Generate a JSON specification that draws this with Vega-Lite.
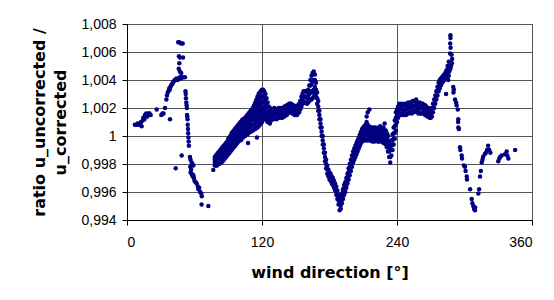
{
  "$schema": "https://vega.github.io/schema/vega-lite/v6.json",
  "autosize": "none",
  "width": 405,
  "height": 196,
  "padding": {"left": 127, "top": 24, "right": 22, "bottom": 80},
  "background": "white",
  "config": {
    "view": {"stroke": "#888888", "strokeWidth": 1},
    "axis": {
      "labelFont": "Liberation Sans",
      "labelFontSize": 14,
      "labelColor": "#000000",
      "titleFont": "DejaVu Sans",
      "titleFontSize": 16,
      "titleFontWeight": "bold",
      "titleColor": "#000000",
      "domainColor": "#000000",
      "tickColor": "#000000",
      "tickSize": 5,
      "gridColor": "#555555",
      "gridOpacity": 1,
      "gridWidth": 1
    }
  },
  "data": {
    "values": [
      {"d":7,"r":1.0008},{"d":8.5,"r":1.0008},{"d":9.5,"r":1.0009},{"d":10.5,"r":1.0008},{"d":11.5,"r":1.0009},{"d":12.5,"r":1.001},{"d":13,"r":1.0007},{"d":14,"r":1.0011},{"d":14.5,"r":1.0013},{"d":15.5,"r":1.0012},{"d":16,"r":1.0015},{"d":17,"r":1.0016},{"d":18,"r":1.0014},{"d":19,"r":1.0016},{"d":20,"r":1.0016},{"d":21,"r":1.0015},{"d":26.4,"r":1.0019},{"d":30.5,"r":1.0015},{"d":31.5,"r":1.0016},{"d":32.5,"r":1.0016},{"d":33.8,"r":1.002},{"d":35,"r":1.0026},{"d":35.5,"r":1.0029},{"d":36.2,"r":1.0031},{"d":36.8,"r":1.0032},{"d":37.5,"r":1.0034},{"d":38,"r":1.0033},{"d":38.6,"r":1.0035},{"d":39.2,"r":1.0036},{"d":40,"r":1.0037},{"d":40.8,"r":1.0038},{"d":41.5,"r":1.0039},{"d":42.3,"r":1.004},{"d":43.2,"r":1.004},{"d":44,"r":1.0041},{"d":45,"r":1.004},{"d":46,"r":1.0041},{"d":47,"r":1.0042},{"d":48,"r":1.0041},{"d":49,"r":1.0042},{"d":50,"r":1.0042},{"d":38.2,"r":1.0012},{"d":43.3,"r":0.9977},{"d":45.5,"r":1.0067},{"d":46.5,"r":1.0067},{"d":48,"r":1.0066},{"d":49.5,"r":1.0066},{"d":46.2,"r":1.0057},{"d":47,"r":1.0056},{"d":49.8,"r":1.0056},{"d":46.5,"r":1.0052},{"d":46,"r":1.0048},{"d":47,"r":1.0046},{"d":48.2,"r":1.0045},{"d":51.5,"r":1.0042},{"d":52,"r":1.0032},{"d":52.2,"r":1.003},{"d":52.4,"r":1.0027},{"d":52.7,"r":1.0024},{"d":53,"r":1.0022},{"d":53.2,"r":1.002},{"d":53.4,"r":1.0015},{"d":53.6,"r":1.0014},{"d":53.8,"r":1.0012},{"d":54,"r":1.0008},{"d":54.2,"r":1.0005},{"d":54.4,"r":1.0002},{"d":54.6,"r":0.9999},{"d":54.8,"r":0.9996},{"d":55,"r":0.9993},{"d":48.6,"r":0.9986},{"d":56,"r":0.9985},{"d":56.5,"r":0.9983},{"d":57.5,"r":0.9981},{"d":58.2,"r":0.998},{"d":59,"r":0.9979},{"d":56.3,"r":0.9978},{"d":57,"r":0.9976},{"d":56.5,"r":0.9974},{"d":57.5,"r":0.9973},{"d":58,"r":0.9972},{"d":58.5,"r":0.9971},{"d":59,"r":0.9972},{"d":59.5,"r":0.997},{"d":60,"r":0.9968},{"d":61,"r":0.9967},{"d":62,"r":0.9966},{"d":63,"r":0.9964},{"d":63.5,"r":0.9962},{"d":64.2,"r":0.9963},{"d":65,"r":0.996},{"d":66,"r":0.9959},{"d":66.5,"r":0.9957},{"d":66.3,"r":0.9951},{"d":72.3,"r":0.995},
      {"d":76.7,"r":0.99758},
      {"d":78,"r":0.9979},{"d":78,"r":0.9981},{"d":78,"r":0.9983},{"d":78,"r":0.9985},
      {"d":79,"r":0.9979},{"d":79,"r":0.99813},{"d":79,"r":0.99837},{"d":79,"r":0.9986},
      {"d":80,"r":0.9979},{"d":80,"r":0.99817},{"d":80,"r":0.99843},{"d":80,"r":0.9987},
      {"d":81,"r":0.998},{"d":81,"r":0.99827},{"d":81,"r":0.99853},{"d":81,"r":0.9988},
      {"d":82,"r":0.998},{"d":82,"r":0.9983},{"d":82,"r":0.9986},{"d":82,"r":0.9989},
      {"d":83,"r":0.9981},{"d":83,"r":0.9984},{"d":83,"r":0.9987},{"d":83,"r":0.999},
      {"d":84,"r":0.9981},{"d":84,"r":0.99843},{"d":84,"r":0.99877},{"d":84,"r":0.9991},
      {"d":85,"r":0.9982},{"d":85,"r":0.99853},{"d":85,"r":0.99887},{"d":85,"r":0.9992},
      {"d":86,"r":0.9983},{"d":86,"r":0.99863},{"d":86,"r":0.99897},{"d":86,"r":0.9993},
      {"d":87,"r":0.9984},{"d":87,"r":0.99873},{"d":87,"r":0.99907},{"d":87,"r":0.9994},
      {"d":88,"r":0.9985},{"d":88,"r":0.99883},{"d":88,"r":0.99917},{"d":88,"r":0.9995},
      {"d":89,"r":0.9986},{"d":89,"r":0.99893},{"d":89,"r":0.99927},{"d":89,"r":0.9996},
      {"d":90,"r":0.9987},{"d":90,"r":0.99907},{"d":90,"r":0.99943},{"d":90,"r":0.9998},
      {"d":91,"r":0.9988},{"d":91,"r":0.99917},{"d":91,"r":0.99953},{"d":91,"r":0.9999},
      {"d":92,"r":0.9989},{"d":92,"r":0.99927},{"d":92,"r":0.99963},{"d":92,"r":1.0},
      {"d":93,"r":0.999},{"d":93,"r":0.9994},{"d":93,"r":0.9998},{"d":93,"r":1.0002},
      {"d":94,"r":0.9991},{"d":94,"r":0.9995},{"d":94,"r":0.9999},{"d":94,"r":1.0003},
      {"d":95,"r":0.9992},{"d":95,"r":0.9996},{"d":95,"r":1.0},{"d":95,"r":1.0004},
      {"d":96,"r":0.9993},{"d":96,"r":0.9997},{"d":96,"r":1.0001},{"d":96,"r":1.0005},
      {"d":97,"r":0.9994},{"d":97,"r":0.9998},{"d":97,"r":1.0002},{"d":97,"r":1.0006},
      {"d":98,"r":0.9995},{"d":98,"r":0.9999},{"d":98,"r":1.0003},{"d":98,"r":1.0007},
      {"d":99,"r":0.9996},{"d":99,"r":1.0},{"d":99,"r":1.0004},{"d":99,"r":1.0008},
      {"d":100,"r":0.9997},{"d":100,"r":1.0},{"d":100,"r":1.0003},{"d":100,"r":1.0006},{"d":100,"r":1.0009},
      {"d":101,"r":0.9997},{"d":101,"r":1.00003},{"d":101,"r":1.00035},{"d":101,"r":1.00068},{"d":101,"r":1.001},
      {"d":102,"r":0.9998},{"d":102,"r":1.00013},{"d":102,"r":1.00045},{"d":102,"r":1.00078},{"d":102,"r":1.0011},
      {"d":103,"r":0.9999},{"d":103,"r":1.00023},{"d":103,"r":1.00055},{"d":103,"r":1.00088},{"d":103,"r":1.0012},
      {"d":104,"r":1.0},{"d":104,"r":1.0003},{"d":104,"r":1.0006},{"d":104,"r":1.0009},{"d":104,"r":1.0012},
      {"d":105,"r":1.0},{"d":105,"r":1.00033},{"d":105,"r":1.00065},{"d":105,"r":1.00098},{"d":105,"r":1.0013},
      {"d":106,"r":1.0001},{"d":106,"r":1.00043},{"d":106,"r":1.00075},{"d":106,"r":1.00108},{"d":106,"r":1.0014},
      {"d":107,"r":1.0001},{"d":107,"r":1.00045},{"d":107,"r":1.0008},{"d":107,"r":1.00115},{"d":107,"r":1.0015},
      {"d":107.6,"r":0.9995},
      {"d":108,"r":1.0002},{"d":108,"r":1.00055},{"d":108,"r":1.0009},{"d":108,"r":1.00125},{"d":108,"r":1.0016},
      {"d":109,"r":1.0003},{"d":109,"r":1.00065},{"d":109,"r":1.001},{"d":109,"r":1.00135},{"d":109,"r":1.0017},
      {"d":110,"r":1.0003},{"d":110,"r":1.00068},{"d":110,"r":1.00105},{"d":110,"r":1.00143},{"d":110,"r":1.0018},
      {"d":111,"r":1.0004},{"d":111,"r":1.00078},{"d":111,"r":1.00115},{"d":111,"r":1.00153},{"d":111,"r":1.0019},
      {"d":112,"r":1.0004},{"d":112,"r":1.0008},{"d":112,"r":1.0012},{"d":112,"r":1.0016},{"d":112,"r":1.002},
      {"d":113,"r":1.0005},{"d":113,"r":1.00084},{"d":113,"r":1.00118},{"d":113,"r":1.00152},{"d":113,"r":1.00186},{"d":113,"r":1.0022},
      {"d":114,"r":1.0005},{"d":114,"r":1.00088},{"d":114,"r":1.00126},{"d":114,"r":1.00164},{"d":114,"r":1.00202},{"d":114,"r":1.0024},
      {"d":115,"r":1.0006},{"d":115,"r":1.001},{"d":115,"r":1.0014},{"d":115,"r":1.0018},{"d":115,"r":1.0022},{"d":115,"r":1.0026},{"d":115.5,"r":0.9999},
      {"d":116,"r":1.0006},{"d":116,"r":1.00104},{"d":116,"r":1.00148},{"d":116,"r":1.00192},{"d":116,"r":1.00236},{"d":116,"r":1.0028},
      {"d":117,"r":1.0007},{"d":117,"r":1.00116},{"d":117,"r":1.00162},{"d":117,"r":1.00208},{"d":117,"r":1.00254},{"d":117,"r":1.003},
      {"d":118,"r":1.0008},{"d":118,"r":1.00126},{"d":118,"r":1.00172},{"d":118,"r":1.00218},{"d":118,"r":1.00264},{"d":118,"r":1.0031},
      {"d":119,"r":1.0009},{"d":119,"r":1.00136},{"d":119,"r":1.00182},{"d":119,"r":1.00228},{"d":119,"r":1.00274},{"d":119,"r":1.0032},
      {"d":120,"r":1.001},{"d":120,"r":1.00146},{"d":120,"r":1.00192},{"d":120,"r":1.00238},{"d":120,"r":1.00284},{"d":120,"r":1.0033},
      {"d":121,"r":1.0012},{"d":121,"r":1.00162},{"d":121,"r":1.00204},{"d":121,"r":1.00246},{"d":121,"r":1.00288},{"d":121,"r":1.0033},
      {"d":122,"r":1.0013},{"d":122,"r":1.00168},{"d":122,"r":1.00206},{"d":122,"r":1.00244},{"d":122,"r":1.00282},{"d":122,"r":1.0032},
      {"d":123,"r":1.0012},{"d":123,"r":1.00156},{"d":123,"r":1.00192},{"d":123,"r":1.00228},{"d":123,"r":1.00264},{"d":123,"r":1.003},
      {"d":124,"r":1.0011},{"d":124,"r":1.00142},{"d":124,"r":1.00174},{"d":124,"r":1.00206},{"d":124,"r":1.00238},{"d":124,"r":1.0027},
      {"d":125,"r":1.001},{"d":125,"r":1.00135},{"d":125,"r":1.0017},{"d":125,"r":1.00205},{"d":125,"r":1.0024},
      {"d":126,"r":1.001},{"d":126,"r":1.00137},{"d":126,"r":1.00173},{"d":126,"r":1.0021},
      {"d":127,"r":1.0009},{"d":127,"r":1.00127},{"d":127,"r":1.00163},{"d":127,"r":1.002},
      {"d":128,"r":1.0011},{"d":128,"r":1.0015},{"d":128,"r":1.0019},
      {"d":129,"r":1.0012},{"d":129,"r":1.0015},{"d":129,"r":1.0019},
      {"d":130,"r":1.0012},{"d":130,"r":1.0016},{"d":130,"r":1.0019},
      {"d":131,"r":1.0013},{"d":131,"r":1.0016},{"d":131,"r":1.002},
      {"d":132,"r":1.0013},{"d":132,"r":1.0016},{"d":132,"r":1.0019},
      {"d":133,"r":1.0012},{"d":133,"r":1.0016},{"d":133,"r":1.0019},
      {"d":134,"r":1.0013},{"d":134,"r":1.0016},{"d":134,"r":1.0019},
      {"d":135,"r":1.0013},{"d":135,"r":1.0016},{"d":135,"r":1.002},
      {"d":136,"r":1.0014},{"d":136,"r":1.0017},{"d":136,"r":1.002},
      {"d":137,"r":1.0013},{"d":137,"r":1.0016},{"d":137,"r":1.0019},
      {"d":138,"r":1.0013},{"d":138,"r":1.0016},{"d":138,"r":1.002},
      {"d":139,"r":1.0014},{"d":139,"r":1.0017},{"d":139,"r":1.002},
      {"d":140,"r":1.0014},{"d":140,"r":1.0017},{"d":140,"r":1.0021},
      {"d":141,"r":1.0015},{"d":141,"r":1.0018},{"d":141,"r":1.0021},
      {"d":142,"r":1.0015},{"d":142,"r":1.0018},{"d":142,"r":1.0022},
      {"d":143,"r":1.0016},{"d":143,"r":1.0019},{"d":143,"r":1.0022},
      {"d":144,"r":1.0017},{"d":144,"r":1.002},{"d":144,"r":1.0023},
      {"d":145,"r":1.0017},{"d":145,"r":1.002},{"d":145,"r":1.0023},
      {"d":146,"r":1.0017},{"d":146,"r":1.002},{"d":146,"r":1.0023},
      {"d":147,"r":1.0016},{"d":147,"r":1.0019},{"d":147,"r":1.0022},
      {"d":148,"r":1.0016},{"d":148,"r":1.0019},{"d":148,"r":1.0022},
      {"d":149,"r":1.0015},{"d":149,"r":1.0018},{"d":149,"r":1.0021},
      {"d":150,"r":1.0015},{"d":150,"r":1.0018},{"d":150,"r":1.0021},
      {"d":151,"r":1.0015},{"d":151,"r":1.0018},{"d":151,"r":1.0021},
      {"d":152,"r":1.0016},{"d":152,"r":1.0019},{"d":152,"r":1.0022},
      {"d":153,"r":1.0017},{"d":153,"r":1.002},{"d":153,"r":1.0023},
      {"d":154,"r":1.0019},{"d":154,"r":1.0022},{"d":154,"r":1.0025},
      {"d":155,"r":1.0021},{"d":155,"r":1.0024},{"d":155,"r":1.0028},
      {"d":156,"r":1.0023},{"d":156,"r":1.0026},{"d":156,"r":1.003},
      {"d":157,"r":1.0024},{"d":157,"r":1.0028},{"d":157,"r":1.0032},
      {"d":158,"r":1.0024},{"d":158,"r":1.0028},{"d":158,"r":1.0032},
      {"d":159,"r":1.0024},{"d":159,"r":1.0028},{"d":159,"r":1.0032},
      {"d":160,"r":1.0023},{"d":160,"r":1.0027},{"d":160,"r":1.0031},
      {"d":161,"r":1.0024},{"d":161,"r":1.0028},{"d":161,"r":1.0033},
      {"d":162,"r":1.0025},{"d":162,"r":1.003},{"d":162,"r":1.0036},
      {"d":163,"r":1.0026},{"d":163,"r":1.0032},{"d":163,"r":1.0036},{"d":163,"r":1.004},
      {"d":164,"r":1.0026},{"d":164,"r":1.0031},{"d":164,"r":1.0037},{"d":164,"r":1.0043},
      {"d":165,"r":1.0027},{"d":165,"r":1.0032},{"d":165,"r":1.0039},{"d":165,"r":1.0045},
      {"d":166,"r":1.0028},{"d":166,"r":1.0033},{"d":166,"r":1.004},{"d":166,"r":1.0046},
      {"d":167,"r":1.003},{"d":167,"r":1.0035},{"d":167,"r":1.004},{"d":167,"r":1.0044},
      {"d":168,"r":1.0028},{"d":168,"r":1.0033},{"d":168,"r":1.0038},
      {"d":169,"r":1.0023},{"d":169,"r":1.0027},{"d":169,"r":1.0031},
      {"d":170,"r":1.0018},{"d":170,"r":1.0021},{"d":170,"r":1.0025},
      {"d":171,"r":1.0012},{"d":171,"r":1.0015},{"d":171,"r":1.0018},
      {"d":172,"r":1.0006},{"d":172,"r":1.0009},{"d":172,"r":1.0012},
      {"d":173,"r":1.0},{"d":173,"r":1.0003},{"d":173,"r":1.0006},
      {"d":174,"r":0.9994},{"d":174,"r":0.9997},{"d":174,"r":1.0},
      {"d":175,"r":0.9988},{"d":175,"r":0.9991},{"d":175,"r":0.9994},
      {"d":176,"r":0.9982},{"d":176,"r":0.9985},{"d":176,"r":0.9988},
      {"d":177,"r":0.9977},{"d":177,"r":0.998},{"d":177,"r":0.9983},
      {"d":178,"r":0.9973},{"d":178,"r":0.9976},{"d":178,"r":0.9979},
      {"d":179,"r":0.9971},{"d":179,"r":0.9973},{"d":179,"r":0.9976},
      {"d":180,"r":0.9969},{"d":180,"r":0.9971},{"d":180,"r":0.9974},
      {"d":181,"r":0.9968},{"d":181,"r":0.997},{"d":181,"r":0.9973},
      {"d":182,"r":0.9966},{"d":182,"r":0.9968},{"d":182,"r":0.9971},
      {"d":183,"r":0.9965},{"d":183,"r":0.9967},{"d":183,"r":0.997},
      {"d":184,"r":0.9963},{"d":184,"r":0.9965},{"d":184,"r":0.9968},
      {"d":185,"r":0.9961},{"d":185,"r":0.9963},{"d":185,"r":0.9966},
      {"d":186,"r":0.9958},{"d":186,"r":0.9961},{"d":186,"r":0.9964},
      {"d":187,"r":0.9955},{"d":187,"r":0.9958},{"d":187,"r":0.9961},
      {"d":188,"r":0.9951},{"d":188,"r":0.9954},{"d":188,"r":0.9958},
      {"d":189,"r":0.9947},{"d":189,"r":0.9951},{"d":189,"r":0.9955},
      {"d":190,"r":0.9948},{"d":190,"r":0.99507},{"d":190,"r":0.99533},{"d":190,"r":0.9956},
      {"d":191,"r":0.9952},{"d":191,"r":0.99543},{"d":191,"r":0.99567},{"d":191,"r":0.9959},
      {"d":192,"r":0.9955},{"d":192,"r":0.99573},{"d":192,"r":0.99597},{"d":192,"r":0.9962},
      {"d":193,"r":0.9958},{"d":193,"r":0.99603},{"d":193,"r":0.99627},{"d":193,"r":0.9965},
      {"d":194,"r":0.996},{"d":194,"r":0.99623},{"d":194,"r":0.99647},{"d":194,"r":0.9967},
      {"d":195,"r":0.9963},{"d":195,"r":0.99653},{"d":195,"r":0.99677},{"d":195,"r":0.997},
      {"d":196,"r":0.9966},{"d":196,"r":0.99683},{"d":196,"r":0.99707},{"d":196,"r":0.9973},
      {"d":197,"r":0.9969},{"d":197,"r":0.99717},{"d":197,"r":0.99743},{"d":197,"r":0.9977},
      {"d":198,"r":0.9972},{"d":198,"r":0.99747},{"d":198,"r":0.99773},{"d":198,"r":0.998},
      {"d":199,"r":0.9975},{"d":199,"r":0.99777},{"d":199,"r":0.99803},{"d":199,"r":0.9983},
      {"d":200,"r":0.9978},{"d":200,"r":0.99807},{"d":200,"r":0.99833},{"d":200,"r":0.9986},
      {"d":201,"r":0.9981},{"d":201,"r":0.99837},{"d":201,"r":0.99863},{"d":201,"r":0.9989},
      {"d":202,"r":0.9983},{"d":202,"r":0.99857},{"d":202,"r":0.99883},{"d":202,"r":0.9991},
      {"d":203,"r":0.9985},{"d":203,"r":0.99877},{"d":203,"r":0.99903},{"d":203,"r":0.9993},
      {"d":204,"r":0.9987},{"d":204,"r":0.99897},{"d":204,"r":0.99923},{"d":204,"r":0.9995},
      {"d":205,"r":0.9989},{"d":205,"r":0.99917},{"d":205,"r":0.99943},{"d":205,"r":0.9997},
      {"d":206,"r":0.9991},{"d":206,"r":0.99937},{"d":206,"r":0.99963},{"d":206,"r":0.9999},
      {"d":207,"r":0.9993},{"d":207,"r":0.99957},{"d":207,"r":0.99983},{"d":207,"r":1.0001},
      {"d":208,"r":0.9995},{"d":208,"r":0.99977},{"d":208,"r":1.00003},{"d":208,"r":1.0003},
      {"d":209,"r":0.9996},{"d":209,"r":0.9999},{"d":209,"r":1.0002},{"d":209,"r":1.0005},
      {"d":210,"r":0.9997},{"d":210,"r":1.0},{"d":210,"r":1.0003},{"d":210,"r":1.0006},
      {"d":211,"r":0.9997},{"d":211,"r":1.0},{"d":211,"r":1.0004},{"d":211,"r":1.0007},
      {"d":212,"r":0.9997},{"d":212,"r":1.0001},{"d":212,"r":1.0004},{"d":212,"r":1.0008},
      {"d":213,"r":0.9997},{"d":213,"r":1.0001},{"d":213,"r":1.0005},{"d":213,"r":1.001},{"d":213,"r":1.0014},
      {"d":214,"r":0.9997},{"d":214,"r":1.0},{"d":214,"r":1.0004},{"d":214,"r":1.0008},{"d":214,"r":1.0017},
      {"d":215,"r":0.9997},{"d":215,"r":1.0},{"d":215,"r":1.0003},{"d":215,"r":1.0007},{"d":215.5,"r":1.0019},
      {"d":216,"r":0.9997},{"d":216,"r":1.0},{"d":216,"r":1.0003},{"d":216,"r":1.0006},
      {"d":217,"r":0.9997},{"d":217,"r":1.0},{"d":217,"r":1.0003},{"d":217,"r":1.0006},
      {"d":218,"r":0.9996},{"d":218,"r":0.9999},{"d":218,"r":1.0002},{"d":218,"r":1.0005},
      {"d":219,"r":0.9997},{"d":219,"r":1.0},{"d":219,"r":1.0003},{"d":219,"r":1.0006},
      {"d":220,"r":0.9996},{"d":220,"r":0.9999},{"d":220,"r":1.0002},{"d":220,"r":1.0005},
      {"d":221,"r":0.9997},{"d":221,"r":1.0},{"d":221,"r":1.0003},{"d":221,"r":1.0006},
      {"d":222,"r":0.9997},{"d":222,"r":1.0},{"d":222,"r":1.0002},{"d":222,"r":1.0005},
      {"d":223,"r":0.9996},{"d":223,"r":0.9999},{"d":223,"r":1.0002},{"d":223,"r":1.0005},
      {"d":224,"r":0.9996},{"d":224,"r":0.9999},{"d":224,"r":1.0003},{"d":224,"r":1.0006},
      {"d":225,"r":0.9997},{"d":225,"r":1.0},{"d":225,"r":1.0004},{"d":225,"r":1.0007},
      {"d":226,"r":0.9996},{"d":226,"r":0.9999},{"d":226,"r":1.0003},{"d":226,"r":1.0006},
      {"d":227,"r":0.9996},{"d":227,"r":0.9999},{"d":227,"r":1.0002},{"d":227,"r":1.0005},
      {"d":228,"r":0.9995},{"d":228,"r":0.9998},{"d":228,"r":1.0002},{"d":228,"r":1.0006},
      {"d":229,"r":0.9995},{"d":229,"r":0.9998},{"d":229,"r":1.0001},{"d":229,"r":1.0004},{"d":229,"r":1.0009},
      {"d":230,"r":0.9994},{"d":230,"r":0.9997},{"d":230,"r":1.0},{"d":230,"r":1.0004},
      {"d":231,"r":0.9992},{"d":231,"r":0.9995},{"d":231,"r":0.9998},{"d":231,"r":1.0002},
      {"d":232,"r":0.9989},{"d":232,"r":0.9993},{"d":232,"r":0.9996},{"d":232,"r":1.0},
      {"d":233,"r":0.9985},{"d":233,"r":0.9989},{"d":233,"r":0.9992},{"d":233,"r":0.9996},
      {"d":234,"r":0.9981},{"d":234,"r":0.9985},{"d":234,"r":0.999},{"d":234,"r":0.9994},
      {"d":235,"r":0.9986},{"d":235,"r":0.999},{"d":235,"r":0.9993},{"d":235,"r":0.9997},
      {"d":236,"r":0.999},{"d":236,"r":0.9994},{"d":236,"r":0.9997},{"d":236,"r":1.0001},
      {"d":237,"r":0.9994},{"d":237,"r":0.9998},{"d":237,"r":1.0002},{"d":237,"r":1.0006},
      {"d":238,"r":0.9998},{"d":238,"r":1.0002},{"d":238,"r":1.0007},{"d":238,"r":1.0011},
      {"d":239,"r":1.0004},{"d":239,"r":1.0008},{"d":239,"r":1.0013},{"d":239,"r":1.0017},
      {"d":240,"r":1.001},{"d":240,"r":1.0015},{"d":240,"r":1.0019},
      {"d":241,"r":1.0013},{"d":241,"r":1.0017},{"d":241,"r":1.0021},
      {"d":242,"r":1.0015},{"d":242,"r":1.0019},{"d":242,"r":1.0023},
      {"d":243,"r":1.0015},{"d":243,"r":1.0019},{"d":243,"r":1.0022},
      {"d":244,"r":1.0016},{"d":244,"r":1.002},{"d":244,"r":1.0023},
      {"d":245,"r":1.0015},{"d":245,"r":1.0019},{"d":245,"r":1.0022},
      {"d":246,"r":1.0015},{"d":246,"r":1.0018},{"d":246,"r":1.0022},
      {"d":247,"r":1.0016},{"d":247,"r":1.0019},{"d":247,"r":1.0023},
      {"d":248,"r":1.0015},{"d":248,"r":1.0019},{"d":248,"r":1.0022},
      {"d":249,"r":1.0016},{"d":249,"r":1.002},{"d":249,"r":1.0023},
      {"d":250,"r":1.0016},{"d":250,"r":1.002},{"d":250,"r":1.0024},
      {"d":251,"r":1.0017},{"d":251,"r":1.002},{"d":251,"r":1.0023},
      {"d":252,"r":1.0017},{"d":252,"r":1.0021},{"d":252,"r":1.0024},
      {"d":253,"r":1.0016},{"d":253,"r":1.002},{"d":253,"r":1.0024},
      {"d":254,"r":1.0017},{"d":254,"r":1.0021},{"d":254,"r":1.0025},
      {"d":255,"r":1.0017},{"d":255,"r":1.0021},{"d":255,"r":1.0025},
      {"d":256,"r":1.0018},{"d":256,"r":1.0022},{"d":256,"r":1.0025},
      {"d":257,"r":1.0018},{"d":257,"r":1.0022},{"d":257,"r":1.0026},
      {"d":258,"r":1.0017},{"d":258,"r":1.0021},{"d":258,"r":1.0024},
      {"d":259,"r":1.0016},{"d":259,"r":1.002},{"d":259,"r":1.0023},
      {"d":260,"r":1.0017},{"d":260,"r":1.002},{"d":260,"r":1.0024},
      {"d":261,"r":1.0016},{"d":261,"r":1.002},{"d":261,"r":1.0023},
      {"d":262,"r":1.0016},{"d":262,"r":1.002},{"d":262,"r":1.0023},
      {"d":263,"r":1.0017},{"d":263,"r":1.002},{"d":263,"r":1.0023},
      {"d":264,"r":1.0016},{"d":264,"r":1.0019},{"d":264,"r":1.0022},
      {"d":265,"r":1.0015},{"d":265,"r":1.0019},{"d":265,"r":1.0022},
      {"d":266,"r":1.0015},{"d":266,"r":1.0018},{"d":266,"r":1.0021},
      {"d":267,"r":1.0014},{"d":267,"r":1.0017},{"d":267,"r":1.002},
      {"d":268,"r":1.0014},{"d":268,"r":1.0017},{"d":268,"r":1.002},
      {"d":269,"r":1.0013},{"d":269,"r":1.0016},{"d":269,"r":1.0019},
      {"d":270,"r":1.0013},{"d":270,"r":1.0016},{"d":270,"r":1.0019},
      {"d":271,"r":1.0014},{"d":271,"r":1.0017},{"d":271,"r":1.002},
      {"d":272,"r":1.0017},{"d":272,"r":1.002},{"d":272,"r":1.0023},
      {"d":273,"r":1.002},{"d":273,"r":1.0023},{"d":273,"r":1.0026},
      {"d":274,"r":1.0023},{"d":274,"r":1.0026},{"d":274,"r":1.0029},
      {"d":275,"r":1.0026},{"d":275,"r":1.0029},{"d":275,"r":1.0032},
      {"d":276,"r":1.0029},{"d":276,"r":1.0032},{"d":276,"r":1.0035},
      {"d":277,"r":1.0032},{"d":277,"r":1.0035},{"d":277,"r":1.0038},
      {"d":278,"r":1.0034},{"d":278,"r":1.0037},{"d":278,"r":1.004},
      {"d":279,"r":1.0036},{"d":279,"r":1.0039},{"d":279,"r":1.0041},
      {"d":280,"r":1.0038},{"d":280,"r":1.004},{"d":280,"r":1.0042},
      {"d":281,"r":1.0039},{"d":281,"r":1.0041},{"d":281,"r":1.0043},
      {"d":282,"r":1.004},{"d":282,"r":1.0042},{"d":282,"r":1.0044},
      {"d":283,"r":1.0041},{"d":283,"r":1.0043},{"d":283,"r":1.0045},
      {"d":284,"r":1.0042},{"d":284,"r":1.0045},{"d":284,"r":1.0047},
      {"d":285,"r":1.0044},{"d":285,"r":1.0047},{"d":285,"r":1.005},
      {"d":286,"r":1.0047},{"d":286,"r":1.005},{"d":286,"r":1.0053},
      {"d":287.5,"r":1.0072},{"d":287.5,"r":1.007},{"d":287.3,"r":1.0066},{"d":287.6,"r":1.0063},{"d":287.2,"r":1.0059},{"d":288.5,"r":1.0058},{"d":289,"r":1.0055},{"d":288.8,"r":1.0052},{"d":288,"r":1.005},{"d":287.5,"r":1.0048},{"d":286.5,"r":1.0046},{"d":286,"r":1.0043},{"d":285.5,"r":1.004},{"d":283.6,"r":1.003},{"d":290,"r":1.0035},{"d":290.5,"r":1.0033},{"d":290.2,"r":1.0031},{"d":291.6,"r":1.0026},{"d":292.5,"r":1.0024},{"d":293,"r":1.0022},{"d":294,"r":1.0019},{"d":294.5,"r":1.0012},{"d":294.3,"r":1.001},{"d":294.5,"r":1.0006},{"d":295,"r":1.0005},{"d":296,"r":0.9992},{"d":296.3,"r":0.999},{"d":297.5,"r":0.9986},{"d":297.8,"r":0.9984},{"d":299.5,"r":0.9979},{"d":300.4,"r":0.9978},{"d":301,"r":0.9975},{"d":302,"r":0.9971},{"d":302.2,"r":0.9969},{"d":305,"r":0.9962},{"d":306.4,"r":0.9955},{"d":307,"r":0.9952},{"d":307.8,"r":0.995},{"d":308.5,"r":0.9948},{"d":309.3,"r":0.9947},{"d":309.5,"r":0.9949},{"d":312.3,"r":0.9959},{"d":313,"r":0.9962},{"d":313.8,"r":0.9971},{"d":314.5,"r":0.9975},{"d":315.3,"r":0.9981},{"d":316,"r":0.9983},{"d":316.5,"r":0.9985},{"d":318,"r":0.9987},{"d":319,"r":0.9988},{"d":320,"r":0.999},{"d":321,"r":0.9993},{"d":322,"r":0.999},{"d":323,"r":0.9988},{"d":330,"r":0.9982},{"d":331,"r":0.9984},{"d":331.6,"r":0.9985},{"d":333,"r":0.9986},{"d":336,"r":0.9987},{"d":337.5,"r":0.9989},{"d":338,"r":0.9986},{"d":339,"r":0.9984},{"d":345,"r":0.999}
    ]
  },
  "mark": {"type": "point", "shape": "circle", "filled": true, "size": 20, "color": "#000080", "opacity": 1},
  "encoding": {
    "x": {
      "field": "d",
      "type": "quantitative",
      "scale": {"domain": [0, 360], "nice": false, "zero": false},
      "axis": {
        "values": [0, 120, 240, 360],
        "grid": true,
        "labelPadding": 10,
        "title": "wind direction [°]",
        "titlePadding": 15
      }
    },
    "y": {
      "field": "r",
      "type": "quantitative",
      "scale": {"domain": [0.994, 1.008], "nice": false, "zero": false},
      "axis": {
        "values": [0.994, 0.996, 0.998, 1.0, 1.002, 1.004, 1.006, 1.008],
        "grid": true,
        "labelPadding": 6,
        "labelExpr": "replace(format(datum.value, '~g'), '.', ',')",
        "title": ["ratio u_uncorrected /", "u_corrected"],
        "titleLineHeight": 21,
        "titlePadding": 12
      }
    }
  }
}
